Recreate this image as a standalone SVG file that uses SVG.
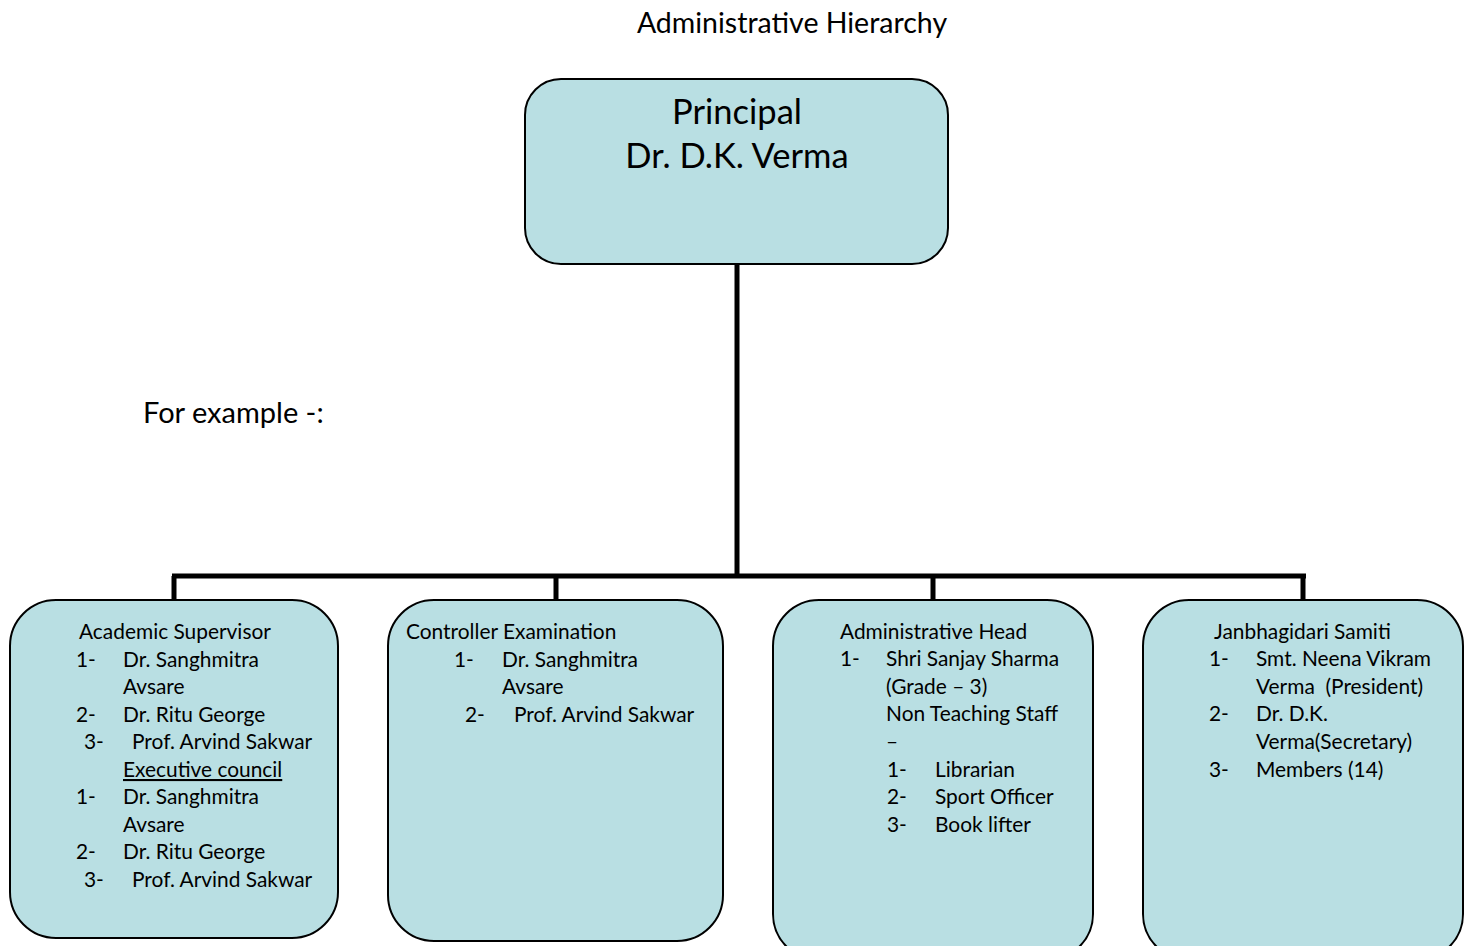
<svg xmlns="http://www.w3.org/2000/svg" width="1472" height="946" viewBox="0 0 1472 946">
<style>
.box{fill:#b9dfe3;stroke:#000;stroke-width:2}
.t{font-family:Lato,"Open Sans",sans-serif;font-size:20.9px;fill:#000}
.big{font-family:Lato,"Open Sans",sans-serif;font-size:34.5px;fill:#000;text-anchor:middle}
.conn{stroke:#000;stroke-width:5;fill:none}
</style>
<rect width="1472" height="946" fill="#fff"/>
<text x="792" y="33" class="t" style="font-size:28.5px;text-anchor:middle">Administrative Hierarchy</text>
<text x="143" y="423" class="t" style="font-size:29px">For example -:</text>
<g id="connectors">
<path class="conn" d="M737 264V576M172 576H1306M174 576V600M556 576V600M933 576V600M1303 576V600"/>
</g>
<g id="principal">
<rect class="box" x="525" y="79" width="423" height="185" rx="36"/>
<text x="737" y="124" class="big">Principal</text>
<text x="737" y="168" class="big">Dr. D.K. Verma</text>
</g>
<g id="academic">
<rect class="box" x="10" y="600" width="328" height="338" rx="46"/>
<text class="t" x="79" y="639">Academic Supervisor</text>
<text class="t" x="76" y="667">1-</text><text class="t" x="123" y="667">Dr. Sanghmitra</text>
<text class="t" x="123" y="694">Avsare</text>
<text class="t" x="76" y="722">2-</text><text class="t" x="123" y="722">Dr. Ritu George</text>
<text class="t" x="84" y="749">3-</text><text class="t" x="132" y="749">Prof. Arvind Sakwar</text>
<text class="t" x="123" y="777" text-decoration="underline">Executive council</text>
<text class="t" x="76" y="804">1-</text><text class="t" x="123" y="804">Dr. Sanghmitra</text>
<text class="t" x="123" y="832">Avsare</text>
<text class="t" x="76" y="859">2-</text><text class="t" x="123" y="859">Dr. Ritu George</text>
<text class="t" x="84" y="887">3-</text><text class="t" x="132" y="887">Prof. Arvind Sakwar</text>
</g>
<g id="controller">
<rect class="box" x="388" y="600" width="335" height="341" rx="46"/>
<text class="t" x="406" y="639">Controller Examination</text>
<text class="t" x="454" y="667">1-</text><text class="t" x="502" y="667">Dr. Sanghmitra</text>
<text class="t" x="502" y="694">Avsare</text>
<text class="t" x="465" y="722">2-</text><text class="t" x="514" y="722">Prof. Arvind Sakwar</text>
</g>
<g id="admin-head">
<rect class="box" x="773" y="600" width="320" height="360" rx="46"/>
<text class="t" x="840" y="639">Administrative Head</text>
<text class="t" x="840" y="666">1-</text><text class="t" x="886" y="666">Shri Sanjay Sharma</text>
<text class="t" x="886" y="694">(Grade – 3)</text>
<text class="t" x="886" y="721">Non Teaching Staff</text>
<text class="t" x="886" y="749">–</text>
<text class="t" x="887" y="777">1-</text><text class="t" x="935" y="777">Librarian</text>
<text class="t" x="887" y="804">2-</text><text class="t" x="935" y="804">Sport Officer</text>
<text class="t" x="887" y="832">3-</text><text class="t" x="935" y="832">Book lifter</text>
</g>
<g id="janbhagidari">
<rect class="box" x="1143" y="600" width="320" height="360" rx="46"/>
<text class="t" x="1214" y="639">Janbhagidari Samiti</text>
<text class="t" x="1209" y="666">1-</text><text class="t" x="1256" y="666">Smt. Neena Vikram</text>
<text class="t" x="1256" y="694" xml:space="preserve">Verma  (President)</text>
<text class="t" x="1209" y="721">2-</text><text class="t" x="1256" y="721">Dr. D.K.</text>
<text class="t" x="1256" y="749">Verma(Secretary)</text>
<text class="t" x="1209" y="777">3-</text><text class="t" x="1256" y="777">Members (14)</text>
</g>
</svg>
